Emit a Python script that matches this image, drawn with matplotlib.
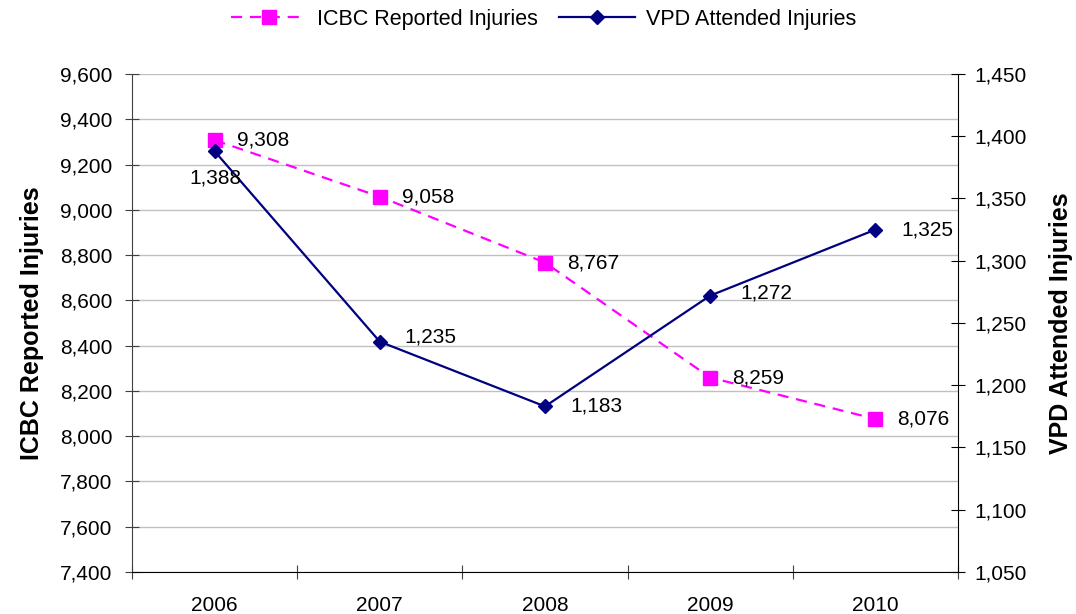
import matplotlib
matplotlib.use("Agg")
import matplotlib.pyplot as plt
from matplotlib.ticker import FuncFormatter, FixedLocator, NullFormatter

plt.rcParams['font.family'] = ['Liberation Sans', 'DejaVu Sans']

years = ["2006", "2007", "2008", "2009", "2010"]
icbc = [9308, 9058, 8767, 8259, 8076]
vpd = [1388, 1235, 1183, 1272, 1325]

fig = plt.figure(figsize=(10.76, 6.14), dpi=100)
ax = fig.add_axes([132/1076, 42/614, 826/1076, 498/614])
ax2 = ax.twinx()

x = list(range(len(years)))
l1, = ax.plot(x, icbc, color='#FF00FF', linestyle=(0, (5, 3.5)), linewidth=1.6,
              marker='s', markersize=10, label='ICBC Reported Injuries', zorder=3)
l2, = ax2.plot(x, vpd, color='#000080', linewidth=1.6, marker='D', markersize=7,
               label='VPD Attended Injuries', zorder=3)

ax.set_xlim(-0.5, 4.5)
ax.set_ylim(7400, 9600)
ax2.set_ylim(1050, 1450)
ax.set_yticks(range(7400, 9601, 200))
ax2.set_yticks(range(1050, 1451, 50))
fmt = FuncFormatter(lambda v, p: f"{int(v):,}")
ax.yaxis.set_major_formatter(fmt)
ax2.yaxis.set_major_formatter(fmt)

ax.xaxis.set_major_locator(FixedLocator([-0.5, 0.5, 1.5, 2.5, 3.5, 4.5]))
ax.xaxis.set_major_formatter(NullFormatter())
ax.xaxis.set_minor_locator(FixedLocator(x))
ax.set_xticklabels(years, minor=True)
ax.tick_params(axis='x', which='minor', length=0, labelsize=15, pad=17)
ax.tick_params(axis='x', which='major', direction='inout', length=10, color='#404040')
ax.tick_params(axis='y', direction='inout', length=10, labelsize=15, color='#404040', pad=9)
ax2.tick_params(axis='y', direction='inout', length=10, labelsize=15, color='#000000', pad=7)

ax.grid(axis='y', color='#C0C0C0', linewidth=1)
ax.set_axisbelow(True)
ax.spines['top'].set_visible(False)
ax2.spines['top'].set_visible(False)
ax.spines['right'].set_visible(False)
ax2.spines['left'].set_visible(False)
ax2.spines['bottom'].set_visible(False)
ax.spines['left'].set_color('#404040')
ax.spines['bottom'].set_color('#000000')
ax2.spines['right'].set_color('#000000')

ax.set_ylabel('ICBC Reported Injuries', fontsize=18, fontweight='bold', va='center')
ax2.set_ylabel('VPD Attended Injuries', fontsize=18, fontweight='bold', va='center',
               rotation=90)
ax.yaxis.set_label_coords(-0.121, 0.5)
ax2.yaxis.set_label_coords(1.125, 0.5)

for xi, v in zip(x, icbc):
    ax.annotate(f"{v:,}", (xi, v), xytext=(22, 0), textcoords='offset pixels',
                ha='left', va='center', fontsize=15, zorder=5)
vpd_offsets = [(-25, -27), (25, 5), (25, 0), (30, 3), (26, 0)]
for xi, v, off in zip(x, vpd, vpd_offsets):
    ax2.annotate(f"{v:,}", (xi, v), xytext=off, textcoords='offset pixels',
                 ha='left', va='center', fontsize=15, zorder=5)

fig.legend(handles=[l1, l2], loc='upper center', bbox_to_anchor=(0.505, 1.017), ncol=2,
           frameon=False, fontsize=15.5, handlelength=3.5, columnspacing=1.0, handletextpad=0.5)

fig.savefig('out.png', dpi=100)
